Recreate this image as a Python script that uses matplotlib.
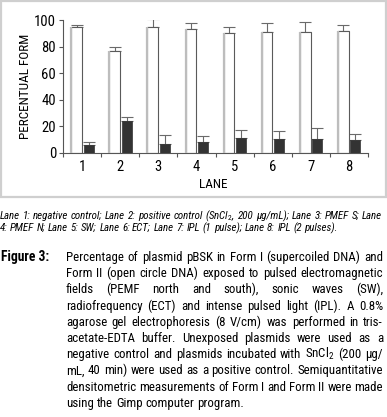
import matplotlib
matplotlib.use("Agg")
import matplotlib.pyplot as plt
from matplotlib import font_manager
import numpy as np
from matplotlib.patches import Rectangle

lanes = ["1", "2", "3", "4", "5", "6", "7", "8"]
form1 = [94.5, 77.0, 94.5, 93.0, 90.0, 91.0, 91.0, 91.5]
form1_err = [2.0, 2.4, 6.2, 4.5, 5.0, 6.5, 7.2, 5.0]
form2 = [6.0, 23.8, 6.8, 7.8, 10.8, 10.0, 10.0, 9.3]
form2_err = [1.8, 3.3, 6.2, 4.5, 6.0, 6.0, 8.3, 4.5]

caption_lines = [
    "Lane 1: negative control; Lane 2: positive control (SnCl$_2$, 200 µg/mL); Lane 3: PMEF S; Lane",
    "4: PMEF N; Lane 5: SW; Lane 6: ECT; Lane 7: IPL (1 pulse); Lane 8: IPL (2 pulses).",
]
para_lines = [
    "Percentage of plasmid pBSK in Form I (supercoiled DNA) and",
    "Form II (open circle DNA) exposed to pulsed electromagnetic",
    "fields (PEMF north and south), sonic waves (SW),",
    "radiofrequency (ECT) and intense pulsed light (IPL). A 0.8%",
    "agarose gel electrophoresis (8 V/cm) was performed in tris-",
    "acetate-EDTA buffer. Unexposed plasmids were used as a",
    "negative control and plasmids incubated with SnCl$_2$ (200 µg/",
    "mL, 40 min) were used as a positive control. Semiquantitative",
    "densitometric measurements of Form I and Form II were made",
    "using the Gimp computer program.",
]

# prefer a narrow face if one is installed
family = "Liberation Sans"
for cand in ["Liberation Sans Narrow", "Arial Narrow", "Roboto Condensed"]:
    try:
        font_manager.findfont(cand, fallback_to_default=False)
        family = cand
        break
    except ValueError:
        pass

plt.rcParams["font.family"] = [family, "DejaVu Sans"]
plt.rcParams["mathtext.fontset"] = "custom"
plt.rcParams["mathtext.rm"] = family
plt.rcParams["mathtext.it"] = family + ":italic"

W, H = 387, 417
fig = plt.figure(figsize=(W / 100, H / 100), dpi=100)
renderer = fig.canvas.get_renderer()


def px(x, y):
    return x / W, 1 - y / H


# chart frame
fig.add_artist(Rectangle(px(1, 197), 385 / W, 196 / H, transform=fig.transFigure,
                         fill=False, edgecolor="#cfcfcf", linewidth=1.6))

ax = fig.add_axes([63 / W, 1 - 152.7 / H, 305 / W, 132.7 / H])
x = np.arange(1, len(lanes) + 1)

ax.bar(x - 0.145, form1, width=0.28, color="white", edgecolor="#5a5a5a", linewidth=0.8, zorder=2)
ax.vlines(x - 0.285, 0, form1, color="#bdbdbd", linewidth=1.6, zorder=3)
ax.errorbar(x - 0.145, form1, yerr=[np.zeros(len(form1)), form1_err], fmt="none",
            ecolor="#6a6a6a", elinewidth=0.8, capsize=4, capthick=0.8, zorder=1)

ax.bar(x + 0.17, form2, width=0.26, color="#333333", edgecolor="#333333", linewidth=0.5, zorder=2)
ax.errorbar(x + 0.17, form2, yerr=[np.zeros(len(form2)), form2_err], fmt="none",
            ecolor="#6a6a6a", elinewidth=0.8, capsize=4, capthick=0.8, zorder=1)

ax.set_xlim(0.5, 8.5)
ax.set_ylim(0, 100)
ax.set_yticks(np.arange(0, 101, 20))
ax.set_xticks(np.arange(0.5, 9, 1))
ax.set_xticklabels([])
ax.set_xticks(x, minor=True)
ax.set_xticklabels(lanes, minor=True)
ax.tick_params(axis="x", which="minor", length=0, labelsize=10.5, pad=5)
ax.tick_params(axis="x", which="major", length=3, color="#555555", width=0.8)
ax.tick_params(axis="y", length=3, color="#555555", width=0.8, labelsize=10.5, pad=2)
for s in ["top", "right"]:
    ax.spines[s].set_visible(False)
for s in ["left", "bottom"]:
    ax.spines[s].set_color("#555555")
    ax.spines[s].set_linewidth(0.8)
ax.patch.set_alpha(0)

fig.text(*px(26, 86), "PERCENTUAL FORM", rotation=90, ha="center", va="center", fontsize=9.5)
fig.text(*px(213, 185), "LANE", ha="center", va="center", fontsize=9.5)


def natural_width(line, **kw):
    t = fig.text(0, 0, line, **kw)
    w = t.get_window_extent(renderer).width
    t.remove()
    return w


def fit_size(lines, span, size0, fill=0.95, **kw):
    widest = max(natural_width(l, fontsize=size0, **kw) for l in lines)
    return min(size0, size0 * span * fill / widest)


def justify(line, x0, x1, y, justified=True, **kw):
    words = line.split(" ")
    texts = [fig.text(0, 0, w, va="baseline", **kw) for w in words]
    widths = [t.get_window_extent(renderer).width for t in texts]
    if justified and len(words) > 1:
        gap = (x1 - x0 - sum(widths)) / (len(words) - 1)
    else:
        gap = natural_width("a a", **kw) - natural_width("aa", **kw)
    xc = x0
    for t, w in zip(texts, widths):
        t.set_position(px(xc, y))
        xc += w + gap


cap_size = fit_size(caption_lines[:1], 382, 9.0, fill=1.0, style="italic")
justify(caption_lines[0], 0, 382, 219, True, fontsize=cap_size, style="italic")
justify(caption_lines[1], 0, 382, 231, False, fontsize=cap_size, style="italic")

para_size = fit_size(para_lines[:-1], 317, 11.5, fill=1.0)
fig.text(*px(1, 261), "Figure 3:", fontsize=para_size + 0.5, weight="bold", va="baseline")
for i, line in enumerate(para_lines):
    justify(line, 66, 383, 261 + i * 16.2, i < len(para_lines) - 1, fontsize=para_size)

fig.savefig("out.png", dpi=100)
